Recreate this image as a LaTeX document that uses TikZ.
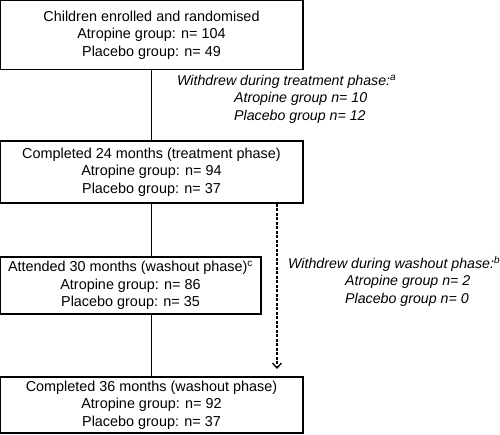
\documentclass[tikz,border=0pt]{standalone}
\usepackage{fontspec}
\setmainfont{Liberation Sans}
\usetikzlibrary{arrows.meta}
\begin{document}
\begin{tikzpicture}[x=1pt,y=-1pt,
  box/.style={draw, line width=1.3pt, minimum width=303pt, inner sep=0pt, align=center,
    font=\fontsize{14.4}{17.4}\selectfont},
  note/.style={align=left, inner sep=0pt, font=\fontsize{14.2}{17.4}\selectfont\itshape},
  conn/.style={line width=1.3pt},
  dconn/.style={line width=1.1pt, dash pattern=on 3pt off 1.5pt, -{Straight Barb[length=5pt,width=9pt,line width=1.3pt]}}]
\useasboundingbox (0,0) rectangle (500,434);
\node[box, minimum height=69pt] (b1) at (151.5,35) {Children enrolled and randomised\\Atropine group: n= 104\\Placebo group: n= 49};
\node[box, minimum height=62pt] (b2) at (151.5,172) {Completed 24 months (treatment phase)\\Atropine group: n= 94\\Placebo group: n= 37};
\node[box, minimum width=261pt, minimum height=57pt] (b3) at (130.5,285.5) {Attended 30 months (washout phase)\textsuperscript{c}\\Atropine group: n= 86\\Placebo group: n= 35};
\node[box, minimum height=56pt] (b4) at (151.5,405) {Completed 36 months (washout phase)\\Atropine group: n= 92\\Placebo group: n= 37};
\node[note, anchor=west] (n1) at (177,99) {Withdrew during treatment phase:\textsuperscript{a}\\\hspace*{57pt}Atropine group n= 10\\\hspace*{57pt}Placebo group n= 12};
\node[note, anchor=west] (n2) at (288,281) {Withdrew during washout phase:\textsuperscript{b}\\\hspace*{57pt}Atropine group n= 2\\\hspace*{57pt}Placebo group n= 0};
\coordinate (dx) at (277,0);
\coordinate (dend) at (277,369);
\draw[conn] (b1.south) -- (b2.north);
\draw[conn] (b2.south) -- (b2.south |- b3.north);
\draw[conn] (b2.south |- b3.south) -- (b4.north);
\draw[dconn] (b2.south -| dx) -- (dend);
\end{tikzpicture}
\end{document}
